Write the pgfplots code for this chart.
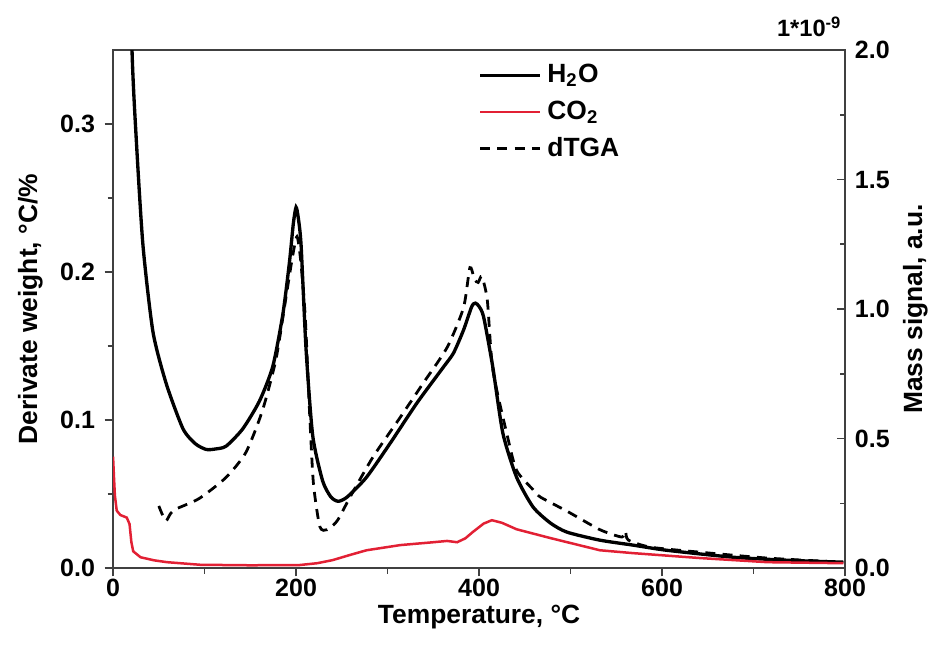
\documentclass[border=0pt]{standalone}
\usepackage{fontspec}
\setmainfont{Liberation Sans}
\usepackage{pgfplots}
\pgfplotsset{compat=1.18}
\definecolor{co2red}{RGB}{226,32,52}
\pgfplotsset{/pgf/number format/assume math mode=true}
\pgfplotsset{every axis/.append style={
  scale only axis, width=263.5pt, height=186.5pt,
  xmin=0, xmax=800, enlargelimits=false,
  tick label style={font=\bfseries\fontsize{9}{10}\selectfont},
  label style={font=\bfseries\fontsize{9.5}{11}\selectfont},
  axis line style={black!75, line width=0.7pt},
  major tick length=3pt, minor tick length=2pt,
  tick style={black!75, line width=0.6pt},
}}
\begin{document}
\begin{tikzpicture}
% left axis: dTGA
\begin{axis}[name=ax,
  ymin=0, ymax=0.35,
  xtick={0,200,...,800}, minor x tick num=1,
  ytick={0,0.1,0.2,0.3}, minor y tick num=1,
  xtick pos=bottom, ytick pos=left, tick align=outside,
  xticklabel style={yshift=2.5pt},
  yticklabel style={/pgf/number format/.cd,fixed,fixed zerofill,precision=1},
  xlabel={Temperature, °C}, ylabel={Derivate weight, °C/\%},
  xlabel style={at={(axis description cs:0.5,-0.094)},anchor=center},
  ylabel style={at={(axis description cs:-0.113,0.5)},anchor=center},
]
\addplot[black, line width=1pt, dash pattern=on 3.6pt off 2.6pt, smooth, tension=0.4] coordinates {
(50,0.042)(54,0.036)(58,0.032)(63,0.037)(69,0.040)(94,0.047)(123,0.061)(145,0.078)
(163,0.106)(178,0.141)(189,0.183)(196,0.210)(201,0.224)(205,0.208)(210,0.170)(215,0.102)
(219,0.057)(226,0.028)(234,0.026)(245,0.032)(259,0.048)(284,0.075)(314,0.102)(339,0.125)
(365,0.149)(383,0.176)(390,0.203)(395,0.195)(399,0.193)(403,0.197)(409,0.181)(415,0.134)
(431,0.089)(441,0.066)(459,0.053)(467,0.048)(496,0.0385)(532,0.026)(556,0.021)(560,0.025)
(563,0.019)(587,0.0142)(641,0.0108)(715,0.0068)(798,0.004)};
\end{axis}
% right axis: mass signals
\begin{axis}[
  ymin=0, ymax=2, clip mode=individual,
  axis x line=none, axis y line*=right,
  ytick={0,0.5,...,2}, minor y tick num=1, tick align=inside,
  yticklabel style={/pgf/number format/.cd,fixed,fixed zerofill,precision=1},
  ylabel={Mass signal, a.u.},
  ylabel style={at={(axis description cs:1.096,0.5)},anchor=center},
  legend style={draw=none, fill=none, at={(axis description cs:0.487,0.995)}, anchor=north west,
    font=\bfseries\fontsize{9.5}{11}\selectfont, row sep=1pt},
  legend cell align=left,
  legend image code/.code={\draw[#1] (0cm,0cm) -- (0.76cm,0cm);},
]
\addplot[black, line width=1.2pt, smooth, tension=0.4] coordinates {
(16,2.8)(20.7,2.0)(25.5,1.646)(32.7,1.245)(43.6,0.912)(58.2,0.711)(76.4,0.538)(90,0.48)
(101.8,0.458)(112,0.46)(123.6,0.471)(141.8,0.538)(160,0.645)(174.5,0.778)(185.5,0.979)
(192.7,1.179)(197,1.33)(200,1.393)(202.5,1.35)(205.5,1.245)(210.9,0.845)(218.2,0.511)
(229,0.337)(238,0.275)(246,0.258)(256,0.275)(277,0.351)(303,0.483)(332,0.637)(361,0.776)
(372,0.830)(383,0.919)(392,1.01)(396,1.023)(400,1.01)(405,0.969)(415,0.776)(426,0.521)
(441,0.351)(459,0.236)(478,0.174)(496,0.139)(532,0.108)(568,0.089)(605,0.069)(678,0.042)
(740,0.03)(798,0.023)};
\addlegendentry{H\textsubscript{2}O}
\addplot[co2red, line width=0.9pt] coordinates {
(0,0.43)(1,0.35)(2,0.28)(4,0.222)(8,0.205)(15,0.195)(18,0.17)(20,0.10)(22,0.065)(30,0.042)
(45,0.03)(59,0.023)(95,0.013)(150,0.011)(204,0.012)(223,0.019)(240,0.031)(260,0.052)
(277,0.069)(314,0.089)(350,0.100)(365,0.105)(376,0.100)(385,0.115)(393,0.139)(405,0.172)
(414,0.185)(425,0.175)(441,0.150)(478,0.116)(532,0.069)(568,0.058)(641,0.039)(715,0.023)
(798,0.019)};
\addlegendentry{CO\textsubscript{2}}
\addlegendimage{black, line width=1pt, dash pattern=on 3.6pt off 2.6pt}
\addlegendentry{dTGA}
\node[anchor=south east, inner sep=0pt, font=\bfseries\fontsize{8.5}{10}\selectfont]
  at (rel axis cs:1,1) [yshift=4.5pt, xshift=-1pt] {1*10\textsuperscript{-9}};
\end{axis}
\pgfresetboundingbox
\path ([xshift=-40.7pt,yshift=-33.8pt]ax.south west) rectangle ([xshift=33.8pt,yshift=18pt]ax.north east);
\end{tikzpicture}
\end{document}
